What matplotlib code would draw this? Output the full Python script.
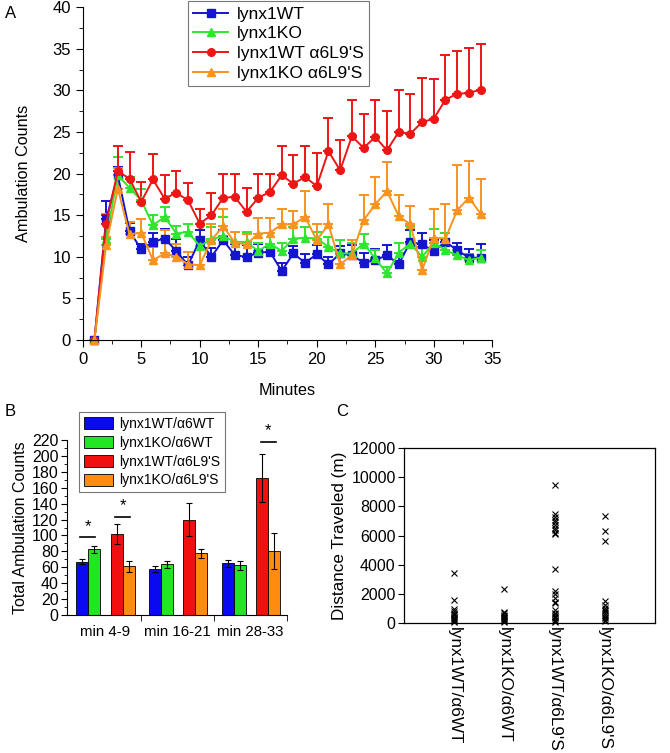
import matplotlib
matplotlib.use("Agg")
import matplotlib.pyplot as plt
import numpy as np
from matplotlib.ticker import MultipleLocator, FixedLocator
from matplotlib.patches import Patch
from matplotlib.lines import Line2D

plt.rcParams['font.family'] = ['Liberation Sans', 'DejaVu Sans']

# ---------------- Panel A data ----------------
minutes = list(range(1, 35))
wt = [0, 14.5, 19.8, 13.1, 10.9, 11.8, 12.2, 10.7, 9.0, 12.0, 10.0, 12.0, 10.2, 10.0, 10.5,
      10.6, 8.3, 10.4, 9.3, 10.3, 9.1, 10.4, 10.2, 9.3, 9.6, 10.2, 9.1, 11.8, 11.5, 10.7,
      11.8, 10.8, 9.9, 9.9]
wt_err = [0, 2.2, 1.0, 1.0, 0.7, 1.1, 1.1, 1.4, 1.0, 1.2, 1.1, 1.2, 1.4, 1.4, 1.0,
          0.6, 1.0, 0.9, 1.0, 1.1, 0.9, 0.9, 1.2, 1.1, 1.4, 1.2, 1.3, 1.4, 1.4, 1.3,
          1.1, 0.9, 1.1, 1.6]
ko = [0, 12.2, 19.8, 18.3, 16.8, 13.8, 14.8, 12.8, 13.0, 11.3, 12.1, 12.5, 11.8, 11.8, 10.7,
      11.6, 10.7, 12.2, 12.3, 12.2, 11.2, 10.4, 10.4, 11.6, 9.8, 8.0, 10.5, 11.6, 10.0, 11.7,
      10.8, 10.2, 9.6, 9.9]
ko_err = [0, 2.9, 2.2, 1.3, 1.4, 1.2, 1.2, 0.9, 1.0, 1.1, 1.5, 2.3, 1.2, 1.2, 1.0,
          1.3, 1.0, 1.4, 1.3, 0.8, 1.2, 1.6, 1.3, 1.1, 1.0, 0.8, 1.2, 2.1, 1.2, 1.6,
          2.1, 0.6, 0.7, 0.9]
wt_l9 = [0, 14.0, 20.3, 19.4, 16.6, 19.3, 17.0, 17.7, 16.8, 14.0, 15.0, 17.1, 17.2, 15.4, 17.1,
         17.8, 19.8, 18.8, 19.6, 18.5, 22.7, 20.4, 24.5, 23.1, 24.4, 22.8, 25.0, 24.8, 26.2, 26.6,
         28.9, 29.6, 29.7, 30.1]
wt_l9_err = [0, 1.0, 3.0, 3.2, 2.4, 3.1, 2.8, 2.6, 2.1, 1.7, 2.7, 2.9, 2.7, 2.9, 2.9,
             2.2, 3.5, 3.5, 3.7, 4.0, 4.0, 3.7, 4.4, 4.1, 4.4, 4.7, 5.0, 4.8, 5.3, 4.8,
             5.4, 5.1, 5.4, 5.5]
ko_l9 = [0, 11.4, 18.2, 12.7, 12.9, 9.6, 10.4, 10.0, 9.1, 9.0, 12.0, 13.7, 11.7, 11.5, 12.8,
         12.9, 13.9, 13.9, 14.8, 12.0, 13.9, 9.1, 10.2, 14.4, 16.3, 17.9, 14.9, 13.9, 8.4, 12.3,
         12.2, 15.6, 17.1, 15.2]
ko_l9_err = [0, 1.0, 2.5, 1.5, 1.7, 1.6, 2.8, 1.6, 1.5, 3.2, 2.0, 2.1, 1.3, 1.2, 1.9,
             1.8, 1.8, 1.6, 3.1, 1.9, 2.4, 1.2, 1.8, 3.0, 3.3, 3.5, 2.5, 2.2, 1.6, 3.4,
             4.1, 5.5, 4.4, 4.1]
series_labels = ["lynx1WT", "lynx1KO", "lynx1WT \u03b16L9'S", "lynx1KO \u03b16L9'S"]

# ---------------- Panel B data ----------------
periods = ["min 4-9", "min 16-21", "min 28-33"]
bar_labels = ["lynx1WT/\u03b16WT", "lynx1KO/\u03b16WT", "lynx1WT/\u03b16L9'S", "lynx1KO/\u03b16L9'S"]
bar_wt = [67, 58, 65]
bar_wt_err = [3.5, 3.7, 4.2]
bar_ko = [82.5, 63.7, 62.5]
bar_ko_err = [4.6, 4.6, 5.8]
bar_wt_l9 = [102, 120, 172]
bar_wt_l9_err = [12.6, 21, 30]
bar_ko_l9 = [61, 77.6, 81]
bar_ko_l9_err = [7.5, 5.8, 22.6]

# ---------------- Panel C data ----------------
groups_c = ["lynx1WT/\u03b16WT", "lynx1KO/\u03b16WT", "lynx1WT/\u03b16L9'S", "lynx1KO/\u03b16L9'S"]
dist_wt = [3400, 1560, 920, 800, 690, 600, 500, 420, 350, 280, 200, 120, 60]
dist_ko = [2300, 750, 650, 560, 480, 400, 330, 260, 190, 120, 60]
dist_wt_l9 = [9470, 7500, 7300, 7100, 6900, 6700, 6500, 6350, 6200, 6100, 3670, 2200, 1950,
              1680, 1450, 1380, 850, 700, 580, 470, 380, 290, 200, 120, 50]
dist_ko_l9 = [7340, 6330, 5640, 1510, 1220, 1000, 900, 780, 650, 520, 400, 300, 200, 100]

W, H = 670, 753
fig = plt.figure(figsize=(W / 100, H / 100), dpi=100)


def ax_px(left, top, right, bottom):
    return fig.add_axes([left / W, 1 - bottom / H, (right - left) / W, (bottom - top) / H])


FS = 12.0

# ---------------- Panel A ----------------
axA = ax_px(82.7, 7.3, 492.3, 340)
colors = ['#1515d0', '#2ee62e', '#ee1515', '#f7931e']
markers = ['s', '^', 'o', '^']
datasets = [(wt, wt_err), (ko, ko_err), (wt_l9, wt_l9_err), (ko_l9, ko_l9_err)]
handles = []
for (vals, errs), c, m, lab in zip(datasets, colors, markers, series_labels):
    vals = np.array(vals)
    errs = np.array(errs)
    axA.errorbar(minutes, vals, yerr=[np.zeros_like(errs), errs], color=c, marker=m,
                 markersize=5.5, linewidth=1.4, elinewidth=1.4, capsize=3.5, capthick=1.4,
                 clip_on=False)
    handles.append(Line2D([], [], color=c, marker=m, markersize=5.5, linewidth=1.4, label=lab))
axA.set_xlim(0, 35)
axA.set_ylim(0, 40)
axA.xaxis.set_major_locator(MultipleLocator(5))
axA.xaxis.set_minor_locator(MultipleLocator(2.5))
axA.yaxis.set_major_locator(MultipleLocator(5))
axA.yaxis.set_minor_locator(MultipleLocator(2.5))
for s in ['top', 'right']:
    axA.spines[s].set_visible(False)
axA.tick_params(which='major', direction='out', length=5, labelsize=FS)
axA.tick_params(which='minor', direction='out', length=3)
axA.set_xlabel("Minutes", fontsize=11.7, labelpad=12)
axA.set_ylabel("Ambulation Counts", fontsize=11.7, labelpad=15)
legA = axA.legend(handles=handles, loc='upper left', bbox_to_anchor=(0.257, 1.018), fontsize=12.6,
                  frameon=True, fancybox=False, edgecolor='#777777', framealpha=1,
                  handlelength=2.0, borderpad=0.3, labelspacing=0.25, handletextpad=0.5,
                  borderaxespad=0.0)
legA.get_frame().set_linewidth(0.8)
fig.text(5 / W, 1 - 14 / H, "A", fontsize=FS, va='center', ha='left')

# ---------------- Panel B ----------------
axB = ax_px(67, 440, 287, 615)
xg = np.arange(len(periods))
bw = 0.165
offs = [-0.316, -0.151, 0.161, 0.326]
bcolors = ['#0a0af0', '#22e622', '#f01010', '#ff8c0f']
bvals = [(bar_wt, bar_wt_err), (bar_ko, bar_ko_err), (bar_wt_l9, bar_wt_l9_err), (bar_ko_l9, bar_ko_l9_err)]
for (v, e), o, c in zip(bvals, offs, bcolors):
    axB.bar(xg + o, v, width=bw, color=c, edgecolor='black', linewidth=0.6,
            yerr=e, error_kw=dict(ecolor='black', elinewidth=0.8, capsize=2.5, capthick=0.8))
axB.set_xlim(-0.52, 2.5)
axB.set_ylim(0, 220)
axB.yaxis.set_major_locator(MultipleLocator(20))
axB.yaxis.set_minor_locator(MultipleLocator(10))
axB.xaxis.set_major_locator(FixedLocator(xg))
axB.set_xticklabels(periods)
axB.xaxis.set_minor_locator(FixedLocator([0.5, 1.5, 2.5]))
axB.tick_params(axis='x', which='major', length=0, labelsize=10.8, pad=7)
axB.tick_params(axis='x', which='minor', length=4, direction='out')
axB.tick_params(axis='y', which='major', length=4, direction='out', labelsize=11.5, pad=2)
axB.tick_params(axis='y', which='minor', length=2, direction='out')
for s in ['top', 'right']:
    axB.spines[s].set_visible(False)
axB.set_ylabel("Total Ambulation Counts", fontsize=11.5, labelpad=3)
# significance marks
sig = [(0, offs[0], offs[1], bar_ko[0] + bar_ko_err[0] + 11),
       (0, offs[2], offs[3], bar_wt_l9[0] + bar_wt_l9_err[0] + 9),
       (2, offs[2], offs[3], bar_wt_l9[2] + bar_wt_l9_err[2] + 16)]
for g, a, b, yv in sig:
    axB.plot([g + a - 0.02, g + b + 0.02], [yv, yv], color='black', linewidth=1.2, clip_on=False)
    axB.text(g + (a + b) / 2, yv + 4, "*", ha='center', va='bottom', fontsize=FS)
bh = [Patch(facecolor=c, edgecolor='black', linewidth=0.6) for c in bcolors]
legB = axB.legend(bh, bar_labels, loc='upper left', bbox_to_anchor=(0.055, 1.16), fontsize=10,
                  frameon=True, fancybox=False, edgecolor='#777777', framealpha=1,
                  handlelength=2.1, handleheight=0.95, borderpad=0.35, labelspacing=0.35,
                  handletextpad=0.4, borderaxespad=0.0)
legB.get_frame().set_linewidth(0.8)
fig.text(5 / W, 1 - 412 / H, "B", fontsize=FS, va='center', ha='left')

# ---------------- Panel C ----------------
axC = ax_px(404, 448.3, 655, 622.7)
for i, d in enumerate([dist_wt, dist_ko, dist_wt_l9, dist_ko_l9]):
    axC.plot(np.full(len(d), i + 1), d, linestyle='none', marker='x', color='black',
             markersize=5, markeredgewidth=0.8, clip_on=False)
axC.set_xlim(0, 5)
axC.set_ylim(0, 12000)
axC.yaxis.set_major_locator(MultipleLocator(2000))
axC.set_xticks([1, 2, 3, 4])
axC.set_xticklabels(groups_c, rotation=-90, va='top', ha='center')
axC.tick_params(axis='x', length=0, labelsize=12.3, pad=3)
axC.tick_params(axis='y', length=4, direction='out', labelsize=11.5, pad=2)
for s in axC.spines.values():
    s.set_linewidth(0.9)
axC.set_ylabel("Distance Traveled (m)", fontsize=12.3, labelpad=3)
fig.text(336 / W, 1 - 412 / H, "C", fontsize=FS, va='center', ha='left')

fig.savefig("out.png", dpi=100)
